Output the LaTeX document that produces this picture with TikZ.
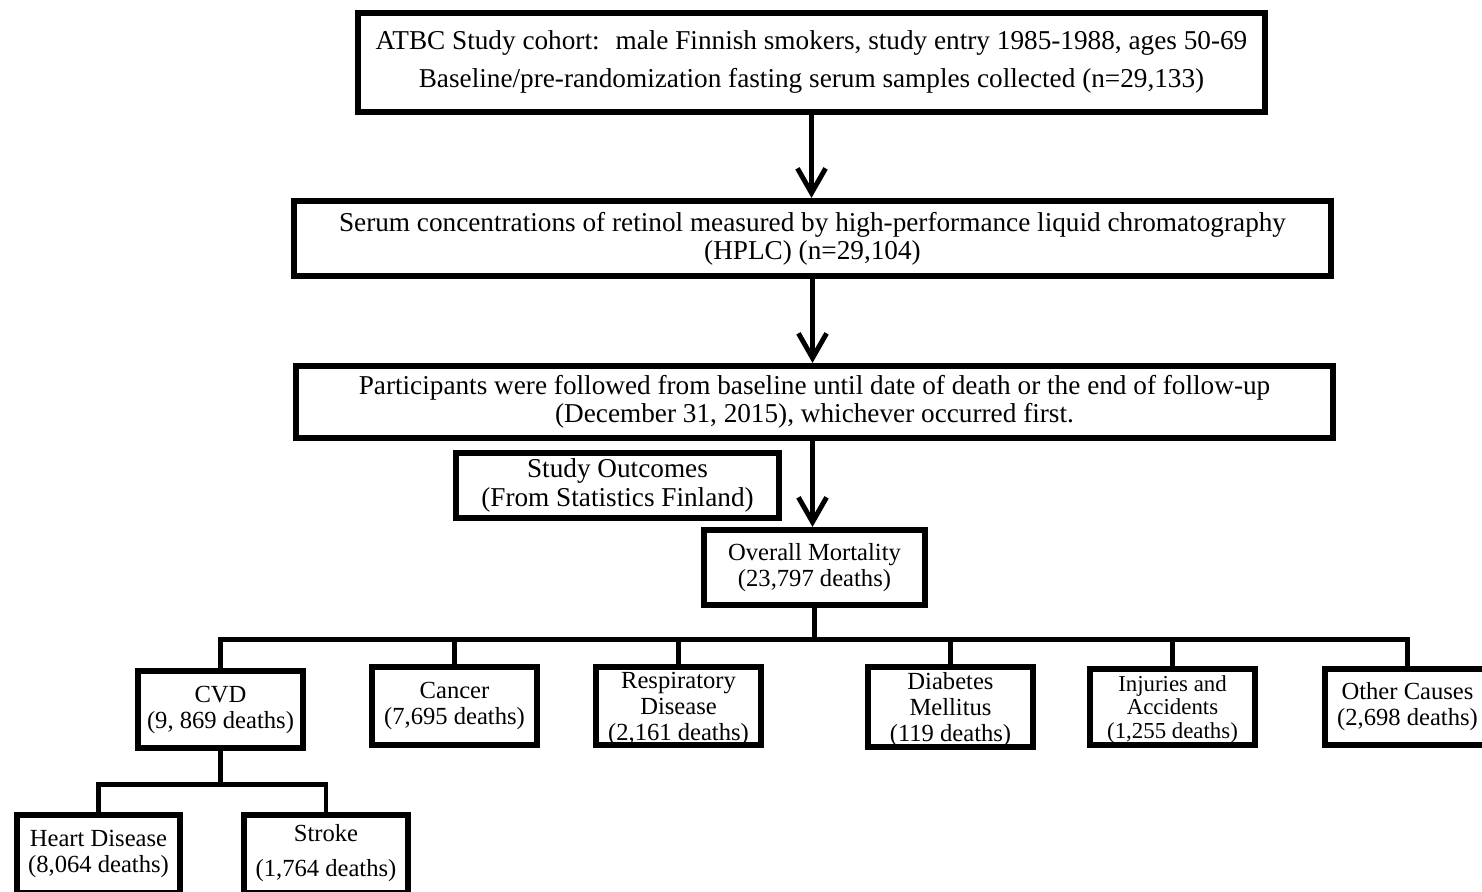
\documentclass[tikz,border=0pt]{standalone}
\usepackage{fontspec}
\setmainfont{Liberation Serif}
\usetikzlibrary{arrows.meta}

\begin{document}
\begin{tikzpicture}[>={Straight Barb[length=14pt, width=16pt]},
    box/.style={draw, line width=3.5pt, align=center, inner sep=0pt},
    wide/.style={box, minimum width=20.74cm, font=\fontsize{15.5}{16}\selectfont},
    cause/.style={box, minimum width=3.3cm, minimum height=1.56cm, font=\fontsize{14}{14.8}\selectfont},
    three/.style={text depth=-2.5pt},
    link/.style={line width=2.8pt}]
    \useasboundingbox (0, 0) rectangle (29.64, -17.84);

    % cohort and follow-up
    \node[box, minimum width=18.14cm, minimum height=1.98cm, font=\fontsize{15.5}{21.6}\selectfont, text depth=4pt] (cohort) at (16.23, -1.25)
        {ATBC Study cohort:~ male Finnish smokers, study entry 1985-1988, ages 50-69\\Baseline/pre-randomization fasting serum samples collected (n=29,133)};
    \node[wide, minimum height=1.5cm] (hplc) at (16.25, -4.77)
        {Serum concentrations of retinol measured by high-performance liquid chromatography\\(HPLC) (n=29,104)};
    \node[wide, minimum height=1.44cm] (followup) at (16.29, -8.04)
        {Participants were followed from baseline until date of death or the end of follow-up\\(December 31, 2015), whichever occurred first.};

    % outcomes
    \node[box, minimum width=6.46cm, minimum height=1.3cm, font=\fontsize{15.5}{17}\selectfont] (outcomes) at (12.35, -9.71)
        {Study Outcomes\\(From Statistics Finland)};
    \node[box, minimum width=4.42cm, minimum height=1.5cm, font=\fontsize{14}{14.8}\selectfont] (overall) at (16.29, -11.35)
        {Overall Mortality\\(23,797 deaths)};

    % causes of death
    \node[cause, minimum height=1.54cm] (cvd) at (4.41, -14.19) {CVD\\(9, 869 deaths)};
    \node[cause] (cancer) at (9.09, -14.12) {Cancer\\(7,695 deaths)};
    \node[cause, three] (resp) at (13.57, -14.12) {Respiratory\\Disease\\(2,161 deaths)};
    \node[cause, three, minimum height=1.6cm] (diabetes) at (19.01, -14.14) {Diabetes\\Mellitus\\(119 deaths)};
    \node[cause, three, minimum height=1.52cm, font=\fontsize{13}{13.4}\selectfont] (injuries) at (23.45, -14.14) {Injuries and\\Accidents\\(1,255 deaths)};
    \node[cause, minimum height=1.52cm] (other) at (28.15, -14.14) {Other Causes\\(2,698 deaths)};

    % CVD split
    \node[cause, minimum width=3.26cm] (heart) at (1.97, -17.08) {Heart Disease\\(8,064 deaths)};
    \node[cause, minimum width=3.28cm, text depth=4pt] (stroke) at (6.52, -17.08) {Stroke\\[5pt](1,764 deaths)};

    % arrows
    \draw[link, ->] (cohort.south) -- (cohort.south |- hplc.north);
    \draw[link, ->] (hplc.south) -- (hplc.south |- followup.north);
    \draw[link, ->] (followup.south -| hplc.south) -- (hplc.south |- overall.north);

    % tree lines
    \draw[link] (overall.south) -- ++(0, -0.62) coordinate (split);
    \foreach \n in {cvd, cancer, resp, diabetes, injuries, other}
        \draw[link] (split) -| (\n.north);
    \draw[link] (cvd.south) -- ++(0, -0.66) coordinate (cvdsplit);
    \draw[link] (cvdsplit) -| (heart.north);
    \draw[link] (cvdsplit) -| (stroke.north);
\end{tikzpicture}
\end{document}
